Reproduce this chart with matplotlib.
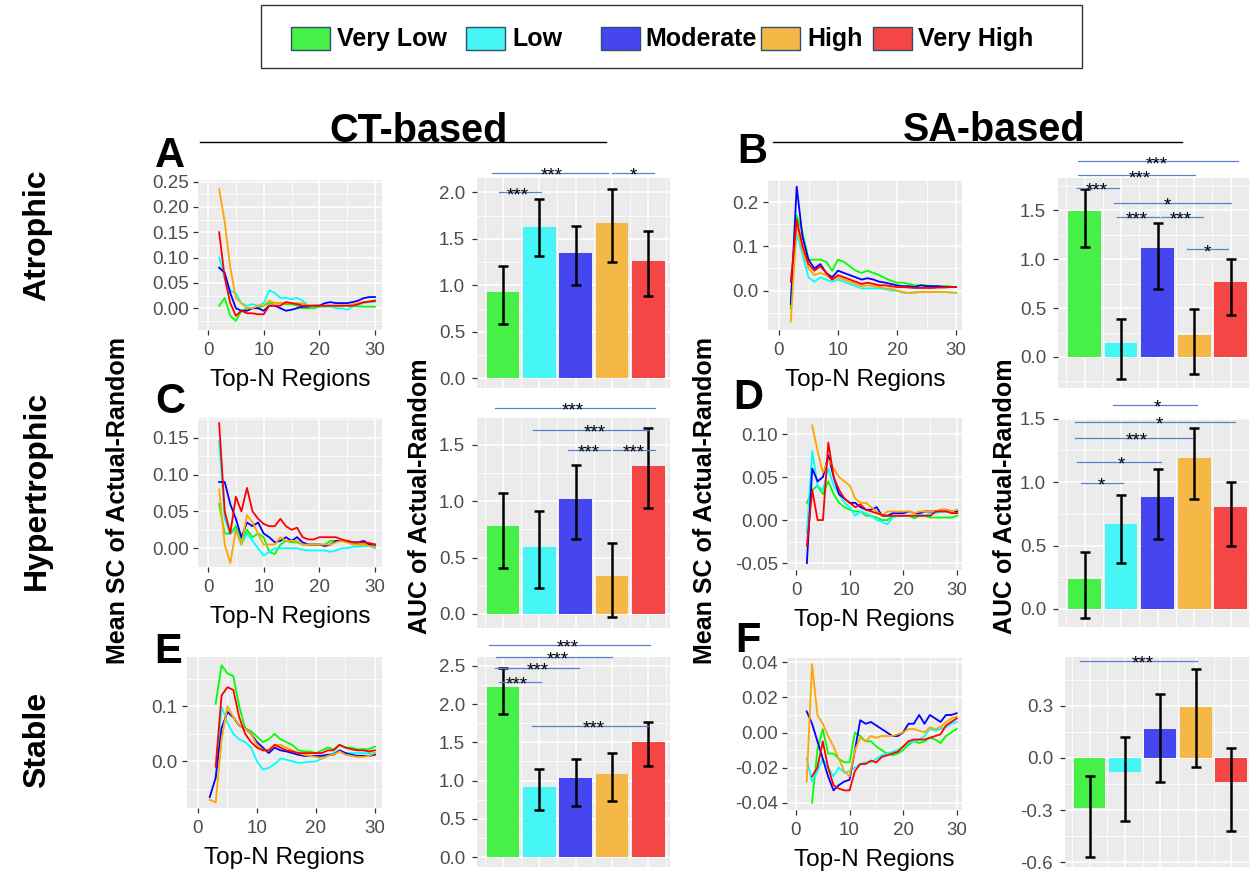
import numpy as np
import matplotlib
matplotlib.use("Agg")
import matplotlib.pyplot as plt
from matplotlib.patches import Rectangle
from matplotlib.ticker import FixedLocator, FixedFormatter

plt.rcParams['font.family'] = ['Liberation Sans', 'DejaVu Sans']

nan = float('nan')

# ---------------- data ----------------
categories = ['Very Low', 'Low', 'Moderate', 'High', 'Very High']
top_n = list(range(2, 31))

# Panel A: CT-based, Atrophic (mean SC of actual - random)
A_vlow = [0.005, 0.02, -0.015, -0.025, -0.005, 0.0, 0.0, 0.0, 0.005, 0.01, 0.01, 0.01, 0.008, 0.008, 0.005, 0.0, 0.0, 0.0, 0.003, 0.003, 0.004, 0.004, 0.005, 0.005, 0.004, 0.004, 0.003, 0.003, 0.003]
A_low = [0.10, 0.06, 0.035, 0.03, 0.01, 0.005, 0.008, 0.005, 0.01, 0.035, 0.03, 0.02, 0.02, 0.018, 0.02, 0.015, 0.005, 0.005, 0.005, 0.003, 0.003, 0.0, 0.0, -0.003, 0.003, 0.008, 0.01, 0.012, 0.012]
A_mod = [0.08, 0.07, 0.03, 0.0, -0.005, -0.005, 0.0, 0.0, -0.005, 0.005, 0.005, 0.0, -0.005, -0.003, 0.0, 0.003, 0.003, 0.005, 0.005, 0.01, 0.012, 0.01, 0.01, 0.01, 0.012, 0.015, 0.02, 0.022, 0.022]
A_high = [0.235, 0.17, 0.08, 0.02, 0.01, 0.0, 0.0, 0.005, 0.005, 0.015, 0.01, 0.01, 0.01, 0.01, 0.01, 0.01, 0.005, 0.005, 0.005, 0.005, 0.005, 0.005, 0.005, 0.005, 0.008, 0.01, 0.012, 0.013, 0.015]
A_vhigh = [0.15, 0.06, 0.01, -0.015, -0.005, -0.01, -0.01, -0.012, -0.012, 0.005, 0.005, 0.005, 0.012, 0.01, 0.008, 0.005, 0.005, 0.005, 0.005, 0.005, 0.005, 0.005, 0.005, 0.005, 0.005, 0.008, 0.012, 0.013, 0.015]

# Panel B: SA-based, Atrophic
B_vlow = [-0.04, 0.17, 0.13, 0.07, 0.07, 0.07, 0.065, 0.045, 0.07, 0.065, 0.055, 0.045, 0.04, 0.045, 0.04, 0.035, 0.028, 0.022, 0.018, 0.018, 0.015, 0.012, 0.012, 0.012, 0.01, 0.01, 0.01, 0.01, nan]
B_low = [-0.02, 0.13, 0.08, 0.03, 0.02, 0.03, 0.025, 0.02, 0.025, 0.02, 0.015, 0.01, 0.005, 0.005, 0.005, 0.005, 0.003, 0.0, 0.0, -0.005, -0.005, -0.003, -0.003, -0.003, -0.003, -0.003, -0.003, -0.004, -0.005]
B_mod = [-0.03, 0.235, 0.12, 0.07, 0.05, 0.06, 0.04, 0.03, 0.045, 0.04, 0.035, 0.03, 0.025, 0.028, 0.025, 0.02, 0.018, 0.015, 0.012, 0.01, 0.01, 0.008, 0.012, 0.01, 0.01, 0.01, 0.008, 0.008, 0.008]
B_high = [-0.07, 0.15, 0.09, 0.05, 0.035, 0.04, 0.035, 0.025, 0.03, 0.025, 0.02, 0.015, 0.01, 0.012, 0.01, 0.008, 0.005, 0.005, 0.0, -0.003, -0.005, -0.005, -0.003, -0.003, -0.003, -0.003, -0.003, -0.004, -0.005]
B_vhigh = [0.02, 0.16, 0.1, 0.06, 0.045, 0.055, 0.04, 0.025, 0.035, 0.03, 0.025, 0.02, 0.015, 0.018, 0.015, 0.012, 0.012, 0.01, 0.008, 0.008, 0.007, 0.006, 0.006, 0.006, 0.006, 0.007, 0.007, 0.008, 0.008]

# Panel C: CT-based, Hypertrophic
C_vlow = [0.06, 0.02, 0.02, 0.03, 0.01, 0.025, 0.015, 0.02, 0.015, -0.005, -0.008, 0.005, 0.01, 0.008, 0.008, 0.005, 0.005, 0.005, 0.005, 0.005, 0.01, 0.01, 0.01, 0.008, 0.008, 0.005, 0.005, 0.005, 0.003]
C_low = [0.145, 0.04, 0.02, 0.025, 0.005, 0.02, 0.01, 0.0, -0.01, -0.005, 0.0, 0.0, 0.0, 0.0, 0.0, -0.002, -0.003, -0.003, -0.003, -0.003, -0.005, -0.003, 0.0, 0.0, 0.002, 0.002, 0.003, 0.003, 0.0]
C_mod = [0.09, 0.09, 0.06, 0.04, 0.015, 0.035, 0.03, 0.035, 0.02, 0.015, 0.008, 0.01, 0.015, 0.01, 0.015, 0.008, 0.005, 0.005, 0.005, 0.003, 0.005, 0.01, 0.01, 0.01, 0.008, 0.008, 0.01, 0.005, 0.005]
C_high = [0.08, 0.005, -0.02, 0.025, 0.005, 0.045, 0.035, 0.02, 0.005, 0.005, 0.005, 0.015, 0.01, 0.01, 0.01, 0.005, 0.005, 0.005, 0.005, 0.005, 0.005, 0.008, 0.01, 0.008, 0.005, 0.005, 0.005, 0.003, 0.002]
C_vhigh = [0.17, 0.05, 0.02, 0.07, 0.05, 0.082, 0.05, 0.04, 0.033, 0.03, 0.03, 0.04, 0.03, 0.025, 0.028, 0.015, 0.012, 0.012, 0.015, 0.015, 0.015, 0.015, 0.012, 0.01, 0.008, 0.008, 0.008, 0.007, 0.005]

# Panel D: SA-based, Hypertrophic
D_vlow = [0.02, 0.035, 0.04, 0.03, 0.045, 0.03, 0.02, 0.015, 0.012, 0.01, 0.01, 0.005, 0.005, 0.003, 0.0, 0.0, 0.005, 0.005, 0.005, 0.005, 0.002, 0.005, 0.005, 0.003, 0.003, 0.003, 0.003, 0.003, 0.005]
D_low = [-0.015, 0.08, 0.04, 0.035, 0.06, 0.04, 0.03, 0.02, 0.015, 0.005, 0.01, 0.008, 0.005, 0.0, -0.002, -0.005, 0.003, 0.005, 0.005, 0.005, 0.005, 0.008, 0.005, 0.008, 0.008, 0.01, 0.01, 0.01, 0.01]
D_mod = [-0.05, 0.06, 0.045, 0.05, 0.075, 0.05, 0.03, 0.025, 0.02, 0.02, 0.015, 0.012, 0.012, 0.015, 0.005, 0.005, 0.008, 0.008, 0.008, 0.01, 0.008, 0.008, 0.01, 0.01, 0.01, 0.012, 0.012, 0.01, 0.01]
D_high = [nan, 0.11, 0.08, 0.055, 0.07, 0.06, 0.05, 0.045, 0.04, 0.025, 0.02, 0.02, 0.015, 0.01, 0.005, 0.01, 0.01, 0.01, 0.01, 0.01, 0.008, 0.01, 0.01, 0.01, 0.01, 0.012, 0.012, 0.01, 0.012]
D_vhigh = [-0.03, 0.035, 0.0, 0.0, 0.09, 0.05, 0.035, 0.025, 0.02, 0.015, 0.018, 0.012, 0.01, 0.008, 0.006, 0.005, 0.005, 0.005, 0.005, 0.005, 0.005, 0.005, 0.005, 0.005, 0.01, 0.01, 0.01, 0.008, 0.008]

# Panel E: CT-based, Stable
E_vlow = [nan, 0.105, 0.175, 0.16, 0.155, 0.1, 0.06, 0.055, 0.045, 0.035, 0.04, 0.05, 0.04, 0.035, 0.03, 0.02, 0.018, 0.018, 0.015, 0.02, 0.025, 0.022, 0.03, 0.025, 0.025, 0.022, 0.022, 0.022, 0.027]
E_low = [nan, -0.03, 0.1, 0.07, 0.05, 0.04, 0.035, 0.025, 0.0, -0.015, -0.012, -0.005, 0.005, 0.003, 0.0, -0.003, -0.002, -0.001, 0.0, 0.005, 0.01, 0.015, 0.02, 0.015, 0.015, 0.015, 0.015, 0.015, 0.015]
E_mod = [-0.065, -0.03, 0.06, 0.09, 0.08, 0.065, 0.06, 0.05, 0.035, 0.025, 0.015, 0.025, 0.02, 0.018, 0.015, 0.012, 0.01, 0.01, 0.01, 0.01, 0.012, 0.012, 0.02, 0.015, 0.012, 0.01, 0.01, 0.01, 0.012]
E_high = [-0.07, -0.075, 0.04, 0.1, 0.08, 0.065, 0.06, 0.05, 0.03, 0.02, 0.02, 0.03, 0.03, 0.025, 0.02, 0.015, 0.012, 0.01, 0.008, 0.005, 0.01, 0.012, 0.018, 0.012, 0.01, 0.008, 0.008, 0.01, 0.015]
E_vhigh = [nan, -0.01, 0.12, 0.135, 0.13, 0.08, 0.05, 0.035, 0.025, 0.02, 0.02, 0.03, 0.025, 0.02, 0.018, 0.015, 0.015, 0.015, 0.015, 0.015, 0.02, 0.02, 0.03, 0.025, 0.022, 0.02, 0.02, 0.018, 0.02]

# Panel F: SA-based, Stable
F_vlow = [nan, -0.04, -0.01, 0.002, -0.012, -0.012, -0.015, -0.017, -0.017, 0.0, -0.002, -0.005, -0.005, -0.008, -0.01, -0.012, -0.013, -0.012, -0.01, -0.007, -0.005, -0.006, -0.005, -0.003, -0.004, -0.006, -0.002, 0.0, 0.002]
F_low = [-0.015, -0.028, -0.022, -0.015, -0.02, -0.025, -0.02, -0.023, -0.022, -0.02, -0.018, -0.017, -0.017, -0.015, -0.013, -0.012, -0.011, -0.01, -0.008, -0.006, -0.005, -0.004, -0.002, 0.002, 0.001, 0.002, 0.003, 0.005, 0.006]
F_mod = [0.012, 0.005, -0.005, -0.015, -0.025, -0.033, -0.03, -0.028, -0.027, -0.01, 0.007, 0.005, 0.006, 0.004, 0.002, 0.0, -0.002, -0.002, 0.0, 0.005, 0.005, 0.01, 0.005, 0.01, 0.008, 0.006, 0.01, 0.01, 0.011]
F_high = [-0.028, 0.039, 0.01, 0.005, -0.002, -0.008, -0.015, -0.022, -0.025, -0.01, -0.003, -0.005, -0.002, -0.003, -0.002, -0.002, -0.002, -0.001, 0.0, 0.002, 0.002, 0.001, 0.0, 0.003, 0.002, 0.003, 0.006, 0.008, 0.009]
F_vhigh = [nan, -0.025, -0.02, -0.005, -0.02, -0.03, -0.032, -0.033, -0.033, -0.022, -0.018, -0.018, -0.016, -0.017, -0.014, -0.013, -0.012, -0.011, -0.008, -0.005, -0.004, -0.004, -0.004, -0.003, -0.002, -0.001, 0.004, 0.006, 0.008]

# AUC of actual - random (bar means and error-bar limits)
A_auc = [0.93, 1.63, 1.35, 1.67, 1.26]
A_lo = [0.59, 1.32, 1.00, 1.25, 0.89]
A_hi = [1.21, 1.93, 1.64, 2.04, 1.59]
B_auc = [1.49, 0.14, 1.11, 0.22, 0.77]
B_lo = [1.12, -0.22, 0.70, -0.17, 0.43]
B_hi = [1.72, 0.39, 1.37, 0.49, 1.00]
C_auc = [0.78, 0.59, 1.02, 0.34, 1.31]
C_lo = [0.41, 0.23, 0.66, -0.03, 0.94]
C_hi = [1.07, 0.91, 1.32, 0.63, 1.65]
D_auc = [0.24, 0.67, 0.88, 1.19, 0.80]
D_lo = [-0.07, 0.36, 0.55, 0.87, 0.50]
D_hi = [0.45, 0.90, 1.10, 1.43, 1.00]
E_auc = [2.22, 0.92, 1.03, 1.09, 1.50]
E_lo = [1.87, 0.61, 0.67, 0.73, 1.19]
E_hi = [2.47, 1.15, 1.28, 1.36, 1.76]
F_auc = [-0.285, -0.08, 0.165, 0.29, -0.14]
F_lo = [-0.57, -0.36, -0.14, -0.05, -0.42]
F_hi = [-0.105, 0.12, 0.37, 0.51, 0.055]

# significance brackets: (x start, x end, y, label, label x)
A_sig = [(0.70, 3.89, 2.21, '***', 2.35), (4.0, 5.16, 2.21, '*', 4.58), (0.89, 2.05, 2.0, '***', 1.41)]
B_sig = [(0.82, 5.2, 2.0, '***', 2.98), (0.82, 4.03, 1.857, '***', 2.52), (0.8, 1.95, 1.73, '***', 1.34),
         (1.81, 5.01, 1.574, '*', 3.28), (1.89, 3.04, 1.434, '***', 2.43), (3.1, 4.25, 1.434, '***', 3.64),
         (3.8, 4.93, 1.1, '*', 4.37)]
C_sig = [(0.78, 5.19, 1.825, '***', 2.92), (1.83, 4.99, 1.632, '***', 3.53), (2.79, 3.95, 1.455, '***', 3.35),
         (4.03, 5.19, 1.455, '***', 4.59)]
D_sig = [(1.78, 4.08, 1.605, '*', 2.99), (0.74, 5.12, 1.474, '*', 3.04), (0.74, 3.95, 1.348, '***', 2.43),
         (0.8, 3.1, 1.158, '*', 2.02), (0.9, 2.05, 0.993, '*', 1.47)]
E_sig = [(0.61, 5.05, 2.777, '***', 2.77), (0.8, 4.0, 2.616, '***', 2.5), (0.78, 3.09, 2.47, '***', 1.95),
         (0.89, 2.05, 2.29, '***', 1.39), (1.8, 4.99, 1.716, '***', 3.49)]
F_sig = [(0.73, 4.04, 0.557, '***', 2.49)]

# ---------------- style ----------------
W, H = 1254, 875
line_colors = ['#00FF00', '#00FFFF', '#0000FF', '#FFA500', '#FF0000']
bar_colors = ['#46F046', '#46F5F5', '#4646F0', '#F5B846', '#F54646']
PANEL_BG = '#EBEBEB'
TICK_COL = '#4D4D4D'
SIG_COL = '#5B80D0'

fig = plt.figure(figsize=(W / 100, H / 100), dpi=100)

# overlay in pixel coordinates (origin top-left)
ov = fig.add_axes([0, 0, 1, 1])
ov.set_xlim(0, W)
ov.set_ylim(H, 0)
ov.axis('off')


def px_axes(box):
    x0, y0, x1, y1 = box
    return fig.add_axes([x0 / W, 1 - y1 / H, (x1 - x0) / W, (y1 - y0) / H])


def gg_style(ax, ypad):
    ax.set_facecolor(PANEL_BG)
    for s in ax.spines.values():
        s.set_visible(False)
    ax.set_axisbelow(True)
    ax.grid(which='major', color='white', lw=1.1)
    ax.grid(which='minor', color='white', lw=0.55)
    ax.tick_params(which='major', color='#333333', length=3.6, width=0.9,
                   labelsize=13.5, labelcolor=TICK_COL)
    ax.tick_params(axis='y', pad=ypad)
    ax.tick_params(axis='x', pad=5)
    ax.tick_params(which='minor', length=0)


def line_panel(box, xlim, ylim, yticks, ylabels, series):
    ax = px_axes(box)
    gg_style(ax, 3)
    for vals, col in zip(series, line_colors):
        ax.plot(top_n, vals, color=col, lw=1.3)
    ax.set_xlim(*xlim)
    ax.set_ylim(*ylim)
    ax.xaxis.set_major_locator(FixedLocator([0, 10, 20, 30]))
    ax.xaxis.set_minor_locator(FixedLocator([5, 15, 25]))
    ax.yaxis.set_major_locator(FixedLocator(yticks))
    ax.yaxis.set_major_formatter(FixedFormatter(ylabels))
    step = yticks[1] - yticks[0]
    ax.yaxis.set_minor_locator(FixedLocator([t - step / 2 for t in yticks] + [yticks[-1] + step / 2]))
    ax.set_xlabel('Top-N Regions', fontsize=17.5, color='black', labelpad=7)
    return ax


def bar_panel(box, xlim, ylim, yticks, ylabels, means, lo, hi, sigs):
    ax = px_axes(box)
    gg_style(ax, 5)
    xs = np.arange(1, len(categories) + 1)
    ax.bar(xs, means, width=0.9, color=bar_colors, zorder=2)
    means_a = np.array(means)
    yerr = [means_a - np.array(lo), np.array(hi) - means_a]
    ax.errorbar(xs, means, yerr=yerr, fmt='none', ecolor='black', elinewidth=1.8,
                capsize=3.5, capthick=1.8, zorder=3)
    ax.set_xlim(*xlim)
    ax.set_ylim(*ylim)
    ax.xaxis.set_major_locator(FixedLocator(list(xs)))
    ax.xaxis.set_minor_locator(FixedLocator([x - 0.5 for x in xs] + [xs[-1] + 0.5]))
    ax.tick_params(axis='x', which='major', length=0, labelbottom=False)
    ax.yaxis.set_major_locator(FixedLocator(yticks))
    ax.yaxis.set_major_formatter(FixedFormatter(ylabels))
    step = yticks[1] - yticks[0]
    ax.yaxis.set_minor_locator(FixedLocator([t - step / 2 for t in yticks] + [yticks[-1] + step / 2]))
    for x0, x1, y, lab, lx in sigs:
        ax.plot([x0, x1], [y, y], color=SIG_COL, lw=0.9, clip_on=False, zorder=4)
        ax.annotate(lab, xy=(lx, y), xytext=(0, -5.5), textcoords='offset points',
                    ha='center', va='baseline', fontsize=13.5, color='black',
                    annotation_clip=False, zorder=5)
    return ax


# line panels
line_panel((198, 180, 382, 330), (-1.8, 31.26), (-0.043, 0.253),
           [0, 0.05, 0.10, 0.15, 0.20, 0.25], ['0.00', '0.05', '0.10', '0.15', '0.20', '0.25'],
           [A_vlow, A_low, A_mod, A_high, A_vhigh])
line_panel((768, 180, 962, 330), (-1.86, 31.0), (-0.089, 0.25),
           [0.0, 0.1, 0.2], ['0.0', '0.1', '0.2'],
           [B_vlow, B_low, B_mod, B_high, B_vhigh])
line_panel((198, 418, 382, 567), (-1.8, 31.26), (-0.0255, 0.177),
           [0, 0.05, 0.10, 0.15], ['0.00', '0.05', '0.10', '0.15'],
           [C_vlow, C_low, C_mod, C_high, C_vhigh])
line_panel((787, 418, 962, 570), (-1.7, 30.9), (-0.058, 0.1186),
           [-0.05, 0, 0.05, 0.10], ['-0.05', '0.00', '0.05', '0.10'],
           [D_vlow, D_low, D_mod, D_high, D_vhigh])
line_panel((187, 657, 382, 808), (-1.86, 31.2), (-0.085, 0.19),
           [0.0, 0.1], ['0.0', '0.1'],
           [E_vlow, E_low, E_mod, E_high, E_vhigh])
line_panel((787, 658, 962, 810), (-1.68, 31.0), (-0.0442, 0.0425),
           [-0.04, -0.02, 0.0, 0.02, 0.04], ['-0.04', '-0.02', '0.00', '0.02', '0.04'],
           [F_vlow, F_low, F_mod, F_high, F_vhigh])

# bar panels
bar_panel((477, 178, 670, 388), (0.284, 5.6), (-0.103, 2.155),
          [0, 0.5, 1.0, 1.5, 2.0], ['0.0', '0.5', '1.0', '1.5', '2.0'], A_auc, A_lo, A_hi, A_sig)
bar_panel((1058, 178, 1250, 388), (0.274, 5.53), (-0.317, 1.83),
          [0, 0.5, 1.0, 1.5], ['0.0', '0.5', '1.0', '1.5'], B_auc, B_lo, B_hi, B_sig)
bar_panel((477, 418, 670, 628), (0.284, 5.6), (-0.124, 1.736),
          [0, 0.5, 1.0, 1.5], ['0.0', '0.5', '1.0', '1.5'], C_auc, C_lo, C_hi, C_sig)
bar_panel((1058, 418, 1250, 627), (0.274, 5.53), (-0.142, 1.505),
          [0, 0.5, 1.0, 1.5], ['0.0', '0.5', '1.0', '1.5'], D_auc, D_lo, D_hi, D_sig)
bar_panel((477, 657, 670, 867), (0.284, 5.6), (-0.13, 2.616),
          [0, 0.5, 1.0, 1.5, 2.0, 2.5], ['0.0', '0.5', '1.0', '1.5', '2.0', '2.5'],
          E_auc, E_lo, E_hi, E_sig)
bar_panel((1065, 657, 1250, 867), (0.308, 5.53), (-0.626, 0.58),
          [-0.6, -0.3, 0.0, 0.3], ['-0.6', '-0.3', '0.0', '0.3'], F_auc, F_lo, F_hi, F_sig)

# ---------------- overlay text ----------------
# legend box
ov.add_patch(Rectangle((261, 5), 821, 63, fill=False, edgecolor='#333333', lw=1.0))
leg_patch_x = [291, 466, 601, 761, 873]
leg_text_x = [337, 512, 645, 807, 918]
for px, tx, col, lab in zip(leg_patch_x, leg_text_x, bar_colors, categories):
    ov.add_patch(Rectangle((px, 27), 39, 23, facecolor=col, edgecolor='#2F4F6F', lw=1.0))
    ov.text(tx, 39, lab, fontsize=18, fontweight='bold', ha='left', va='center')

# column titles
ov.text(419, 131, 'CT-based', fontsize=28.5, fontweight='bold', ha='center', va='center')
ov.text(994, 130, 'SA-based', fontsize=28.5, fontweight='bold', ha='center', va='center')
ov.plot([200, 606], [142, 142], color='black', lw=1.0)
ov.plot([773, 1182], [142, 142], color='black', lw=1.0)

# row labels
ov.text(37, 235, 'Atrophic', fontsize=23, fontweight='bold', rotation=90, ha='center', va='center')
ov.text(37, 490, 'Hypertrophic', fontsize=23, fontweight='bold', rotation=90, ha='center', va='center')
ov.text(37, 740, 'Stable', fontsize=23, fontweight='bold', rotation=90, ha='center', va='center')

# y-axis titles
for x in (118, 705):
    ov.text(x, 501, 'Mean SC of Actual-Random', fontsize=18, fontweight='bold',
            rotation=90, ha='center', va='center')
for x in (420, 1005):
    ov.text(x, 496, 'AUC of Actual-Random', fontsize=18, fontweight='bold',
            rotation=90, ha='center', va='center')

# panel letters
for lab, x, y in [('A', 170, 156), ('B', 752, 152), ('C', 170, 402),
                  ('D', 748, 398), ('E', 168, 652), ('F', 748, 641)]:
    ov.text(x, y, lab, fontsize=30, fontweight='bold', ha='center', va='center')

fig.savefig('out.png', dpi=100)
